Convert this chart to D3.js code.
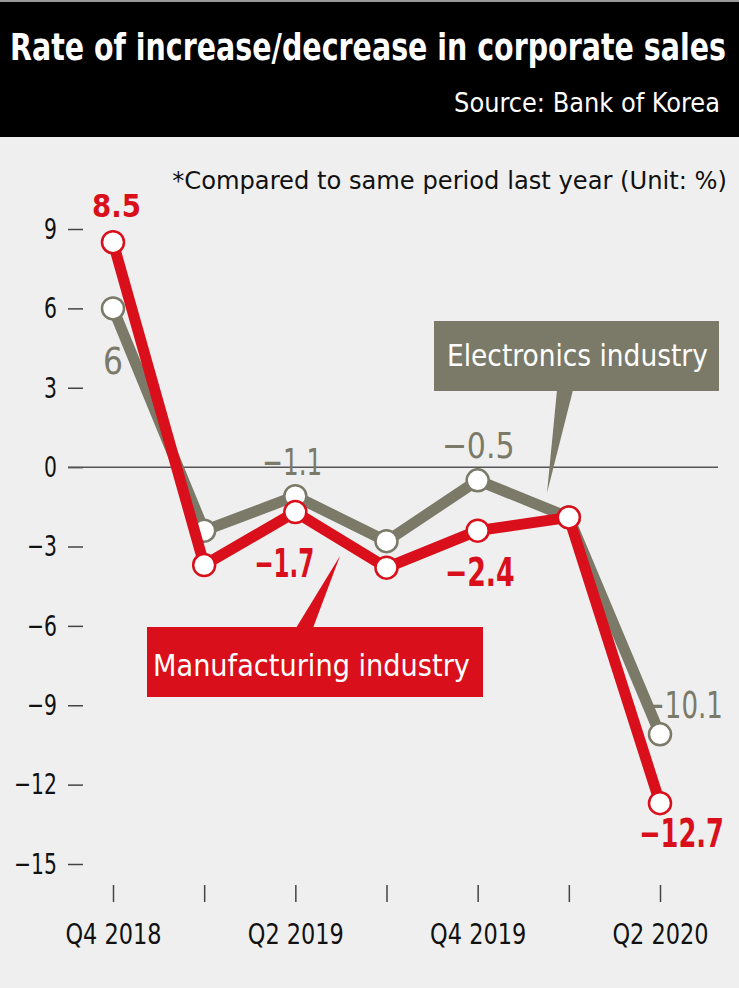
<!DOCTYPE html>
<html>
<head>
<meta charset="utf-8">
<script src="https://d3js.org/d3.v7.min.js"></script>
<style>
body { margin: 0; background: #efefef; }
svg { display: block; }
text { font-family: "DejaVu Sans Condensed", "Liberation Sans Narrow", "Roboto", sans-serif; }
</style>
</head>
<body>
<div id="chart"></div>
<script>
var quarters = ["Q4 2018", "Q1 2019", "Q2 2019", "Q3 2019", "Q4 2019", "Q1 2020", "Q2 2020"];
var quarterLabels = ["Q4 2018", "", "Q2 2019", "", "Q4 2019", "", "Q2 2020"];
var manufacturing = [8.5, -3.7, -1.7, -3.8, -2.4, -1.9, -12.7];
var electronics = [6, -2.4, -1.1, -2.8, -0.5, -1.9, -10.1];
var yTicks = [9, 6, 3, 0, -3, -6, -9, -12, -15];

var width = 739, height = 988;
var grey = "#7b7a68", red = "#d9101b";

var minus = s => String(s).replace("-", "\u2212");

var svg = d3.select("#chart").append("svg")
  .attr("width", width)
  .attr("height", height);

svg.append("rect").attr("width", width).attr("height", height).attr("fill", "#efefef");

/* text squeezed to a given width (the original uses a condensed face) */
function label(o) {
  var g = svg.append("g").attr("transform", `translate(${o.x},${o.y})`);
  var t = g.append("text")
    .attr("text-anchor", o.anchor || "start")
    .attr("fill", o.fill)
    .attr("font-size", o.size)
    .attr("font-weight", o.weight || "normal")
    .text(o.text);
  var w = t.node().getComputedTextLength();
  t.attr("transform", `scale(${o.width / w},1)`);
  return g;
}

/* squeeze axis tick texts by a fixed factor, keeping their anchor */
function squeeze(sel, s) {
  sel.each(function() {
    var t = d3.select(this);
    var x0 = +t.attr("x") || 0;
    t.attr("x", x0 / s).attr("transform", `scale(${s},1)`);
  });
}

/* header */
svg.append("rect").attr("x", 0).attr("y", 0).attr("width", width).attr("height", 137).attr("fill", "#000");
svg.append("rect").attr("x", 0).attr("y", 0).attr("width", width).attr("height", 2).attr("fill", "#999");
label({x: 10, y: 60, text: "Rate of increase/decrease in corporate sales", size: 38, weight: "bold", fill: "#fff", width: 716});
label({x: 720, y: 112, text: "Source: Bank of Korea", size: 26, fill: "#fff", width: 266, anchor: "end"});
label({x: 727, y: 189, text: "*Compared to same period last year  (Unit: %)", size: 25, fill: "#111", width: 555, anchor: "end"});

/* scales */
var x = d3.scalePoint().domain(quarters).range([113, 660]);
var y = d3.scaleLinear().domain([-15, 9]).range([864, 229]);

/* y axis */
var yAxis = d3.axisLeft(y).tickValues(yTicks).tickSize(15).tickPadding(11).tickFormat(d => minus(d));
var gy = svg.append("g").attr("transform", "translate(83,0)").call(yAxis);
gy.select(".domain").remove();
gy.selectAll(".tick line").attr("stroke", "#444").attr("stroke-width", 1.5);
gy.selectAll(".tick text").attr("font-size", 29).attr("fill", "#111")
  .style("font-family", "'DejaVu Sans Condensed', sans-serif");
squeeze(gy.selectAll(".tick text"), 0.78);

/* zero line */
svg.append("line")
  .attr("x1", 68).attr("x2", 718)
  .attr("y1", y(0)).attr("y2", y(0))
  .attr("stroke", "#555").attr("stroke-width", 1.5);

/* x axis */
var xAxis = d3.axisBottom(x).tickSize(17).tickPadding(21).tickFormat((d, i) => quarterLabels[i]);
var gx = svg.append("g").attr("transform", "translate(0,885)").call(xAxis);
gx.select(".domain").remove();
gx.selectAll(".tick line").attr("stroke", "#444").attr("stroke-width", 1.5);
gx.selectAll(".tick text").attr("font-size", 29).attr("fill", "#111")
  .style("font-family", "'DejaVu Sans Condensed', sans-serif");
squeeze(gx.selectAll(".tick text"), 0.86);

/* callouts */
function callout(box, tri, color, text, tx, ty, tw) {
  svg.append("path")
    .attr("d", "M" + tri.map(p => p.join(",")).join("L") + "Z")
    .attr("fill", color);
  svg.append("rect")
    .attr("x", box[0]).attr("y", box[1]).attr("width", box[2]).attr("height", box[3])
    .attr("fill", color);
  label({x: tx, y: ty, text: text, size: 31, fill: "#fff", width: tw});
}
callout([434, 321, 285, 70], [[557, 390], [573, 390], [547, 493]], grey, "Electronics industry", 447, 366, 261);
callout([147, 627, 336, 70], [[296, 628], [313, 628], [340, 556]], red, "Manufacturing industry", 153, 676, 317);

/* lines */
var line = d3.line().x((d, i) => x(quarters[i])).y(d => y(d));

function series(values, color) {
  svg.append("path")
    .attr("d", line(values))
    .attr("fill", "none")
    .attr("stroke", color)
    .attr("stroke-width", 11)
    .attr("stroke-linejoin", "round");
  svg.append("g").selectAll("circle")
    .data(values).enter()
    .append("circle")
    .attr("cx", (d, i) => x(quarters[i]))
    .attr("cy", d => y(d))
    .attr("r", 11)
    .attr("fill", "#fff")
    .attr("stroke", color)
    .attr("stroke-width", 2.5);
}
series(electronics, grey);
series(manufacturing, red);

/* value labels: offsets from the point they belong to */
var greyLabels = [
  {i: 0, dx: 0, dy: 66, w: 20, size: 38, anchor: "middle"},
  {i: 2, dx: -33, dy: -21, w: 60, size: 38},
  {i: 4, dx: -36, dy: -22, w: 73, size: 36},
  {i: 6, dx: -17, dy: -16, w: 80, size: 38}
];
var redLabels = [
  {i: 0, dx: -21, dy: -25, w: 49, size: 32},
  {i: 2, dx: -41, dy: 65, w: 60, size: 39},
  {i: 4, dx: -33, dy: 55, w: 70, size: 39},
  {i: 6, dx: -21, dy: 44, w: 85, size: 39}
];
function valueLabels(list, values, color, weight) {
  list.forEach(d => {
    label({
      x: x(quarters[d.i]) + d.dx,
      y: y(values[d.i]) + d.dy,
      text: minus(values[d.i]),
      size: d.size, width: d.w, fill: color, weight: weight,
      anchor: d.anchor
    });
  });
}
valueLabels(greyLabels, electronics, grey, "normal");
valueLabels(redLabels, manufacturing, red, "bold");
</script>
</body>
</html>
